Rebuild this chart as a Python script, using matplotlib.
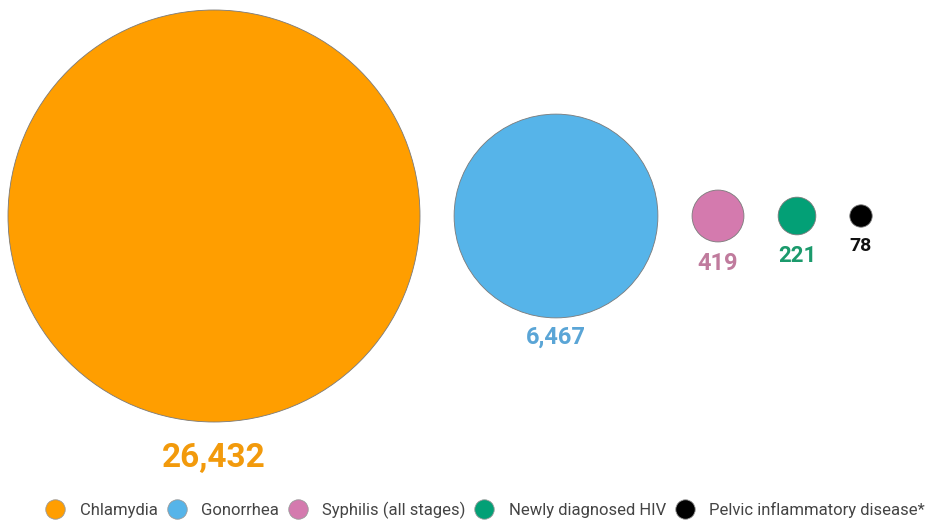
import numpy as np
import matplotlib.pyplot as plt
from matplotlib.patches import Circle
from matplotlib.lines import Line2D

plt.rcParams['font.family'] = ['Roboto', 'DejaVu Sans']

# Data
diseases = ['Chlamydia', 'Gonorrhea', 'Syphilis (all stages)',
            'Newly diagnosed HIV', 'Pelvic inflammatory disease*']
cases = [26432, 6467, 419, 221, 78]
labels = ['26,432', '6,467', '419', '221', '78']

# Styles
fill_colors = ['#FF9E00', '#56B4E9', '#D47AAE', '#03A076', '#000000']
text_colors = ['#F29A0C', '#5AA5D6', '#C07B9D', '#1B9A6C', '#111111']
label_sizes = [24, 17, 17, 16, 14]
label_gaps = [20, 8, 10, 10, 10]
centers_x = [214, 556, 718, 797, 861]
center_y = 216
px_per_sqrt = 206 / np.sqrt(cases[0])   # area-proportional circles

fig = plt.figure(figsize=(9.33, 5.21), dpi=100)
ax = fig.add_axes([0, 0, 1, 1])
ax.set_xlim(0, 933)
ax.set_ylim(521, 0)
ax.set_aspect('equal')
ax.axis('off')

for v, cx, fc, tc, lab, fs, gap in zip(cases, centers_x, fill_colors, text_colors,
                                       labels, label_sizes, label_gaps):
    r = px_per_sqrt * np.sqrt(v)
    ax.add_patch(Circle((cx, center_y), r, facecolor=fc,
                        edgecolor='#7a7a7a', linewidth=0.6))
    ax.text(cx, center_y + r + gap, lab, color=tc, fontsize=fs,
            fontweight='bold', ha='center', va='top')

# Legend
handles = [Line2D([], [], marker='o', linestyle='', markersize=14,
                  markerfacecolor=c, markeredgecolor='#9a9a9a',
                  markeredgewidth=0.6) for c in fill_colors]
fig.legend(handles, diseases, loc='center', bbox_to_anchor=(0.52, 0.021),
           ncol=5, frameon=False, fontsize=12, labelcolor='#444444',
           handletextpad=0.85, columnspacing=0.55, handlelength=1.2,
           borderpad=0, borderaxespad=0)

fig.savefig('out.png', dpi=100)
